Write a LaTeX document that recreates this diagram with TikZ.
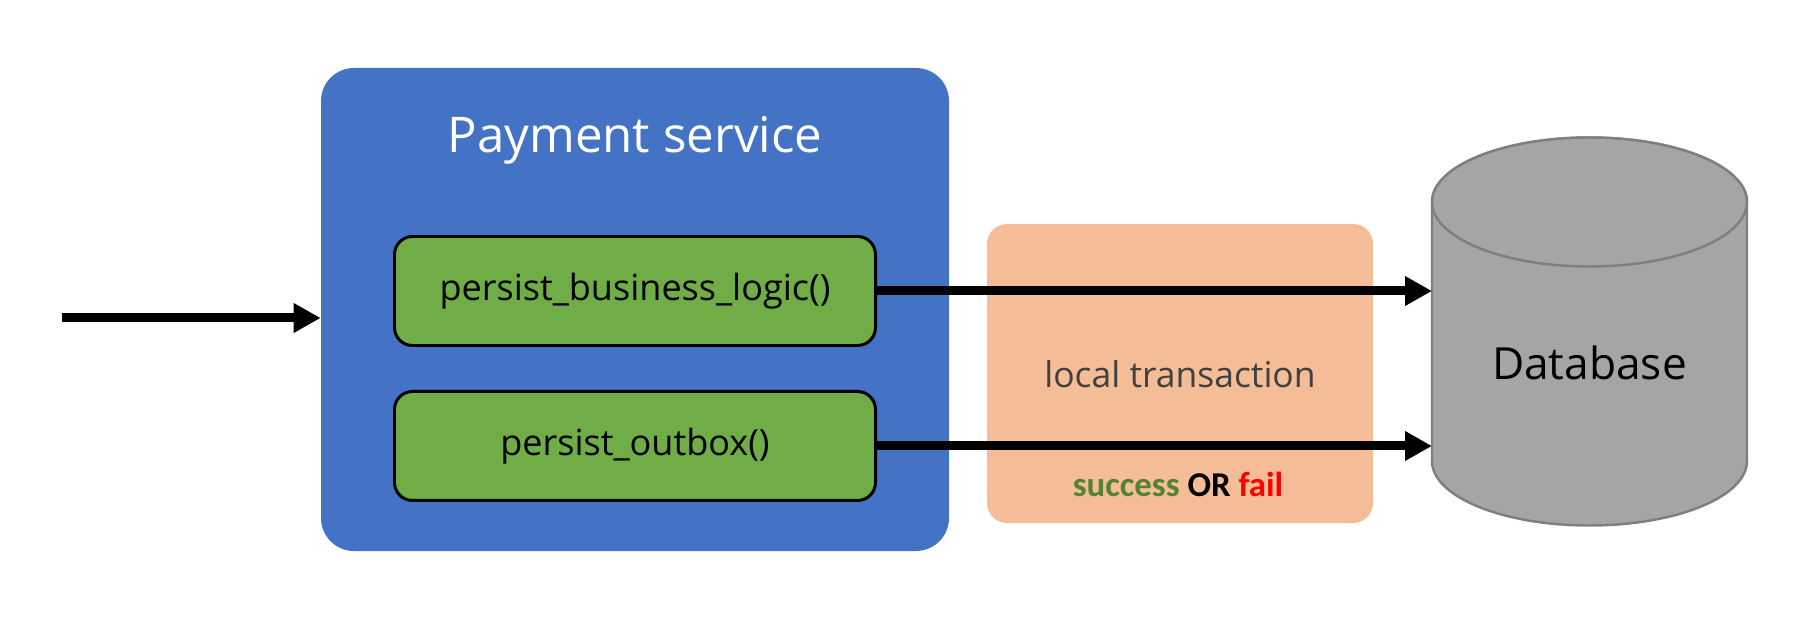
\documentclass[tikz,border=0pt]{standalone}
\usepackage{fontspec}
\setmainfont{Open Sans}
\newfontfamily\calibri{Carlito}
\usepackage{xcolor}
\usetikzlibrary{arrows.meta, positioning}

\definecolor{svcblue}{HTML}{4472C4}
\definecolor{fngreen}{HTML}{70AD47}
\definecolor{txpeach}{HTML}{F4BC97}
\definecolor{dbgray}{HTML}{A5A5A5}
\definecolor{dbline}{HTML}{7F7F7F}
\definecolor{okgreen}{HTML}{548235}
\definecolor{txtgray}{HTML}{404040}

\begin{document}
\begin{tikzpicture}[>={Triangle[length=0.54cm, width=0.56cm]},
					flow/.style={->, line width=0.18cm, black},
					svcbox/.style={fill=svcblue, rounded corners=0.66cm, minimum width=12.56cm, minimum height=9.66cm},
					fnbox/.style={draw=black, line width=1.7pt, fill=fngreen, rounded corners=0.36cm,
						minimum width=9.62cm, minimum height=2.18cm, font=\fontsize{20.5}{24}\selectfont},
					txbox/.style={fill=txpeach, rounded corners=0.4cm, minimum width=7.72cm, minimum height=5.98cm},
					dbcyl/.style={fill=dbgray, draw=dbline, line width=1.4pt}]

					\useasboundingbox (0,0) rectangle (36.22,12.32);

					\node[svcbox] (svc) at (12.70,6.13) {};
					\node[anchor=base, white, font=\fontsize{28}{34}\selectfont] (svctitle) at (12.70,9.26) {Payment service};
					\node[fnbox] (logic) at (12.70,6.50) {persist\_business\_logic()};
					\node[fnbox, below=0.86cm of logic] (outbox) {persist\_outbox()};

					\node[txbox] (tx) at (23.60,4.85) {};
					\node[anchor=base, txtgray, font=\fontsize{20.2}{24}\selectfont] (txlabel) at (23.60,4.58) {local transaction};
					\node[anchor=base, font=\calibri\bfseries\fontsize{19.8}{24}\selectfont] (txresult) at (23.56,2.38)
						{\textcolor{okgreen}{success} OR \textcolor{red}{fail}};

					\draw[dbcyl] (28.64,8.28) -- (28.64,3.10) arc[start angle=180, end angle=360, x radius=3.15cm, y radius=1.29cm]
						-- (34.94,8.28) arc[start angle=0, end angle=180, x radius=3.15cm, y radius=1.29cm] -- cycle;
					\draw[dbcyl] (31.79,8.28) ellipse [x radius=3.15cm, y radius=1.29cm];
					\node[anchor=base, font=\fontsize{25.2}{30}\selectfont] (db) at (31.79,4.72) {Database};
					\coordinate (dbwest) at (28.64,5.69);

					\coordinate (client) at (1.24,5.96);
					\draw[flow] (client) -- (client -| svc.west);
					\draw[flow] (logic.east) -- (logic.east -| dbwest);
					\draw[flow] (outbox.east) -- (outbox.east -| dbwest);
				\end{tikzpicture}
\end{document}
